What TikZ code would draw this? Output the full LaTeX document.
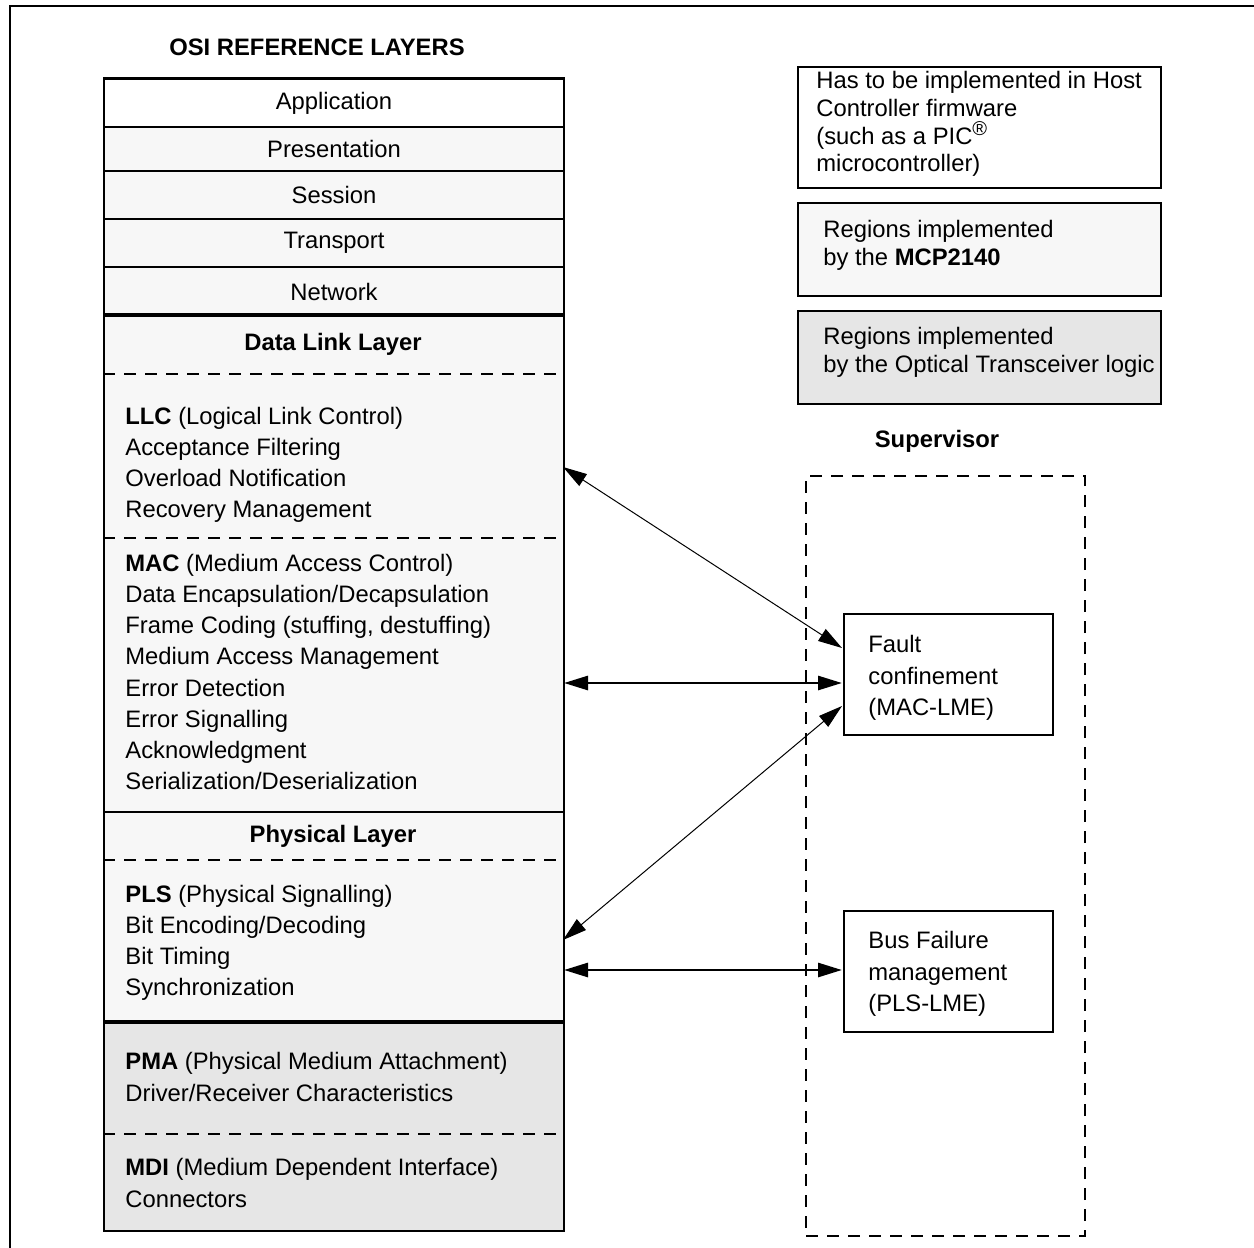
\documentclass[tikz,border=0pt]{standalone}
\usepackage{fontspec}
\setmainfont{Liberation Sans}
\usetikzlibrary{arrows.meta}
\definecolor{lite}{HTML}{F7F7F7}
\definecolor{mid}{HTML}{E6E6E6}
\begin{document}
\begin{tikzpicture}[x=0.5pt,y=-0.5pt,
  every node/.style={font=\fontsize{11.9}{15.6}\selectfont},
  layer/.style={draw, line width=1pt, minimum width=230pt, inner sep=0pt, anchor=north west},
  listtxt/.style={anchor=west, align=left, inner sep=0pt, font=\fontsize{11.9}{15.6}\selectfont},
  legtxt/.style={anchor=west, align=left, inner sep=0pt, font=\fontsize{11.9}{13.9}\selectfont},
  legbox/.style={draw, line width=0.75pt, minimum width=181.5pt, inner sep=0pt, anchor=north west},
  supbox/.style={draw, line width=1pt, minimum width=104.5pt, minimum height=60.5pt, inner sep=0pt, anchor=north west},
  sepline/.style={line width=0.85pt, dash pattern=on 6pt off 4.5pt},
  thinarrow/.style={line width=0.5pt, {Triangle[length=12pt,width=7pt]}-{Triangle[length=12pt,width=7pt]}},
  thickarrow/.style={line width=1.4pt, {Triangle[length=12pt,width=7pt]}-{Triangle[length=12pt,width=7pt]}},
]
\useasboundingbox (0,0) rectangle (1254,1248);
% frame (top and left)
\draw[line width=1pt] (10,1248) -- (10,6) -- (1254,6);

% title
\node (title) at (317,47) {\bfseries OSI REFERENCE LAYERS};

% upper layers
\node[layer, fill=white, minimum height=24pt] (app) at (103,78) {};
\node (appt) at (app.center) {Application};
\node[layer, fill=lite, minimum height=22pt] (pres) at (103,126) {};
\node (prest) at (pres.center) {Presentation};
\node[layer, fill=lite, minimum height=24pt] (sess) at (103,170) {};
\node (sesst) at (sess.center) {Session};
\node[layer, fill=lite, minimum height=24pt] (trans) at (103,218) {};
\node (transt) at (trans.center) {Transport};
\node[layer, fill=lite, minimum height=24.5pt] (net) at (103,266) {};
\node (nett) at (net.center) {Network};
\draw[line width=1.5pt] (app.north west) -- (app.north east);

% data link layer
\node[layer, fill=lite, minimum height=248pt] (dll) at (103,315) {};
\node[layer, fill=lite, minimum height=105.5pt] (phy) at (103,811) {};
\node[layer, fill=mid, minimum height=104pt] (pma) at (103,1022) {};
\draw[line width=1.6pt] (dll.north west) -- (dll.north east);
\draw[line width=1.6pt] (pma.north west) -- (pma.north east);

\draw[sepline] (103,374) -- (563,374);
\draw[sepline] (103,538) -- (563,538);
\draw[sepline] (103,860) -- (563,860);
\draw[sepline] (103,1134) -- (563,1134);

\node (dllt) at (333,344) {\bfseries Data Link Layer};
\node[listtxt] (llc) at (125,465) {\textbf{LLC} (Logical Link Control)\\Acceptance Filtering\\Overload Notification\\Recovery Management};
\node[listtxt] (mac) at (125,672) {\textbf{MAC} (Medium Access Control)\\Data Encapsulation/Decapsulation\\Frame Coding (stuffing, destuffing)\\Medium Access Management\\Error Detection\\Error Signalling\\Acknowledgment\\Serialization/Deserialization};
\node (phyt) at (333,836) {\bfseries Physical Layer};
\node[listtxt] (pls) at (125,943) {\textbf{PLS} (Physical Signalling)\\Bit Encoding/Decoding\\Bit Timing\\Synchronization};
\node[listtxt] (pmat) at (125,1077) {\textbf{PMA} (Physical Medium Attachment)\\Driver/Receiver Characteristics};
\node[listtxt] (mdi) at (125,1183) {\textbf{MDI} (Medium Dependent Interface)\\Connectors};

% legend
\node[legbox, fill=white, minimum height=60.5pt] (leg1) at (797,66) {};
\node[legtxt] (leg1t) at (816,124) {Has to be implemented in Host\\Controller firmware\\(such as a PIC\textsuperscript{\fontsize{10}{10}\selectfont ®}\\microcontroller)};
\node[legbox, fill=lite, minimum height=46.5pt] (leg2) at (797,202) {};
\node[legtxt] (leg2t) at (823,245) {Regions implemented\\by the \textbf{MCP2140}};
\node[legbox, fill=mid, minimum height=46.5pt] (leg3) at (797,310) {};
\node[legtxt] (leg3t) at (823,352) {Regions implemented\\by the Optical Transceiver logic};

% supervisor
\node (supt) at (937,441) {\bfseries Supervisor};
\node[draw, sepline, line width=1pt, minimum width=139.5pt, minimum height=380pt, inner sep=0pt, anchor=north west] (sup) at (805,475) {};
\node[supbox, fill=white] (fault) at (843,613) {};
\node[listtxt] (faultt) at (868,678) {Fault\\confinement\\(MAC-LME)};
\node[supbox, fill=white] (bus) at (843,910) {};
\node[listtxt] (bust) at (868,974) {Bus Failure\\management\\(PLS-LME)};

% connectors
\coordinate (llcR) at (563,467);
\coordinate (faultA) at (842,648);
\coordinate (macR) at (564,683);
\coordinate (faultB) at (842,683);
\coordinate (plsA) at (563,940);
\coordinate (faultC) at (842,706);
\coordinate (plsB) at (564,970);
\coordinate (busL) at (842,970);
\draw[thinarrow] (llcR) -- (faultA);
\draw[thickarrow] (macR) -- (faultB);
\draw[thinarrow] (plsA) -- (faultC);
\draw[thickarrow] (plsB) -- (busL);
\end{tikzpicture}
\end{document}
